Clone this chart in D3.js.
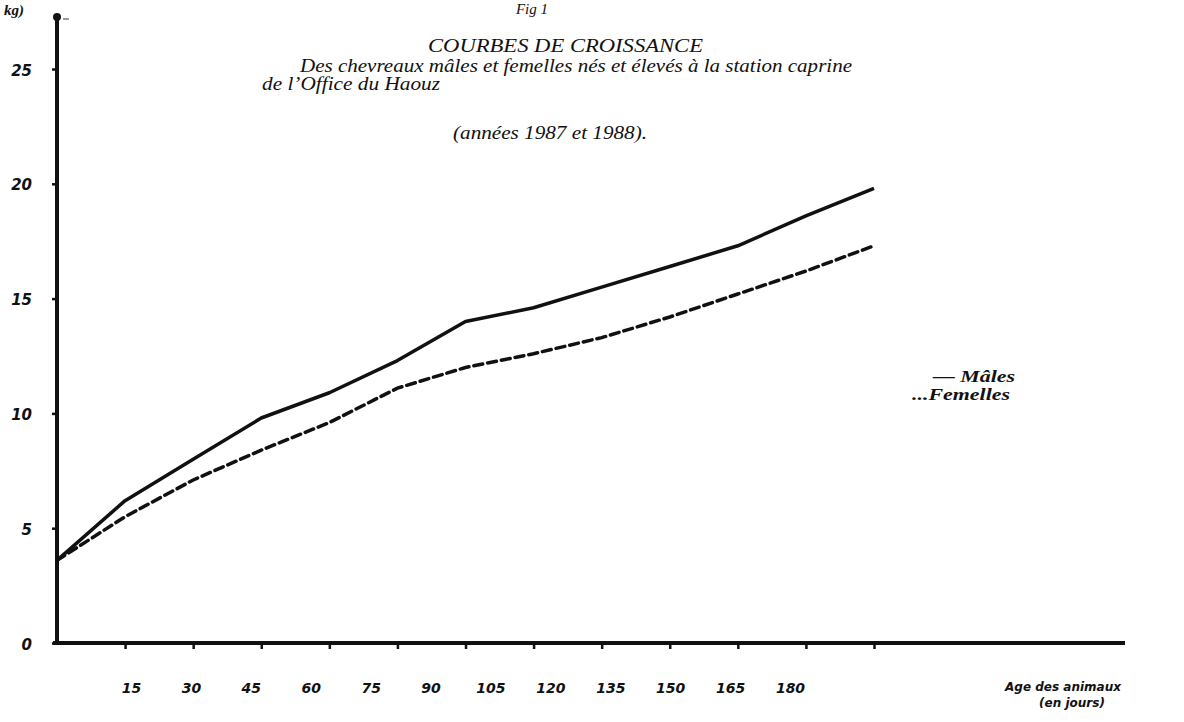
<!DOCTYPE html>
<html>
<head>
<meta charset="utf-8">
<script src="https://cdn.jsdelivr.net/npm/d3@7"></script>
<style>
  body { margin: 0; background: #fff; }
  svg { display: block; }
  .serif { font-family: "Liberation Serif", "DejaVu Serif", serif; font-style: italic; fill: #111; }
  .hand { font-family: "DejaVu Sans", sans-serif; font-style: italic; font-weight: bold; fill: #111; }
</style>
</head>
<body>
<script>
// ages (days) and weights (kg)
const ages = [0, 15, 30, 45, 60, 75, 90, 105, 120, 135, 150, 165, 180];
const males = [3.6, 6.2, 8.0, 9.8, 10.9, 12.3, 14.0, 14.6, 15.5, 16.4, 17.3, 18.6, 19.8];
const females = [3.6, 5.5, 7.1, 8.4, 9.6, 11.1, 12.0, 12.6, 13.3, 14.2, 15.2, 16.2, 17.3];
const yTicks = [0, 5, 10, 15, 20, 25];
const xTickLabels = [15, 30, 45, 60, 75, 90, 105, 120, 135, 150, 165, 180];

const titleLines = [
  "COURBES DE CROISSANCE",
  "Des chevreaux mâles et femelles nés et élevés à la station caprine",
  "de l\u2019Office du Haouz",
  "(années 1987 et 1988)."
];

const W = 1184, H = 722;

const svg = d3.select("body")
  .append("svg")
  .attr("width", W)
  .attr("height", H);

const x = d3.scaleLinear().domain([0, 180]).range([57, 874]);
const y = d3.scaleLinear().domain([0, 25]).range([643, 69]);
// the printed day labels sit on their own (tighter) spacing in the original
const xLabel = d3.scaleLinear().domain([15, 180]).range([131, 790]);

// axes drawn by hand: heavy ink strokes
svg.append("line")
  .attr("x1", x(0)).attr("x2", x(0))
  .attr("y1", y(0)).attr("y2", 16)
  .attr("stroke", "#111").attr("stroke-width", 4);
svg.append("circle").attr("cx", x(0)).attr("cy", 17).attr("r", 4).attr("fill", "#111");
svg.append("line")
  .attr("x1", x(0) + 6).attr("x2", x(0) + 12)
  .attr("y1", 19).attr("y2", 19)
  .attr("stroke", "#333").attr("stroke-width", 1);

svg.append("line")
  .attr("x1", x(0) - 4).attr("x2", 1125)
  .attr("y1", y(0)).attr("y2", y(0))
  .attr("stroke", "#111").attr("stroke-width", 4);

// y ticks + labels
const yAxis = svg.append("g")
  .attr("transform", `translate(${x(0)},0)`)
  .call(d3.axisLeft(y).tickValues(yTicks).tickSize(5).tickPadding(20))
  .call(g => g.select(".domain").remove());
yAxis.selectAll(".tick line").attr("stroke", "#111").attr("stroke-width", 2.5);
yAxis.selectAll(".tick text")
  .attr("class", "hand")
  .attr("font-size", 15)
  .attr("dy", "0.4em");

// x tick marks on the data scale
const xAxis = svg.append("g")
  .attr("transform", `translate(0,${y(0)})`)
  .call(d3.axisBottom(x).tickValues(xTickLabels).tickSize(6).tickFormat(""))
  .call(g => g.select(".domain").remove());
xAxis.selectAll(".tick line").attr("stroke", "#111").attr("stroke-width", 2.5);

// x tick labels
const xLab = svg.append("g")
  .attr("transform", `translate(0,${y(0)})`)
  .call(d3.axisBottom(xLabel).tickValues(xTickLabels).tickSize(0).tickPadding(40))
  .call(g => g.select(".domain").remove());
xLab.selectAll(".tick text")
  .attr("class", "hand")
  .attr("font-size", 14);

// axis titles
svg.append("text").attr("class", "serif")
  .attr("x", 4).attr("y", 15)
  .attr("font-size", 15).attr("font-weight", "bold")
  .text("kg)");

svg.append("text").attr("class", "hand")
  .attr("x", 1063).attr("y", 691)
  .attr("text-anchor", "middle")
  .attr("font-size", 12)
  .text("Age des animaux");
svg.append("text").attr("class", "hand")
  .attr("x", 1072).attr("y", 707)
  .attr("text-anchor", "middle")
  .attr("font-size", 12)
  .text("(en jours)");

// title block
svg.append("text").attr("class", "serif")
  .attr("x", 532).attr("y", 14)
  .attr("text-anchor", "middle")
  .attr("font-size", 15)
  .text("Fig 1");
svg.append("text").attr("class", "serif")
  .attr("x", 428).attr("y", 52)
  .attr("font-size", 19)
  .attr("textLength", 275).attr("lengthAdjust", "spacingAndGlyphs")
  .text(titleLines[0]);
svg.append("text").attr("class", "serif")
  .attr("x", 300).attr("y", 72)
  .attr("font-size", 18)
  .attr("textLength", 552).attr("lengthAdjust", "spacingAndGlyphs")
  .text(titleLines[1]);
svg.append("text").attr("class", "serif")
  .attr("x", 262).attr("y", 90)
  .attr("font-size", 18)
  .attr("textLength", 178).attr("lengthAdjust", "spacingAndGlyphs")
  .text(titleLines[2]);
svg.append("text").attr("class", "serif")
  .attr("x", 453).attr("y", 139)
  .attr("font-size", 18)
  .attr("textLength", 194).attr("lengthAdjust", "spacingAndGlyphs")
  .text(titleLines[3]);

// curves
const line = d3.line()
  .x((d, i) => x(ages[i]))
  .y(d => y(d));

svg.append("path")
  .datum(females)
  .attr("fill", "none")
  .attr("stroke", "#111")
  .attr("stroke-width", 3.5)
  .attr("stroke-dasharray", "9,5")
  .attr("stroke-linecap", "round")
  .attr("d", line);

svg.append("path")
  .datum(males)
  .attr("fill", "none")
  .attr("stroke", "#111")
  .attr("stroke-width", 3.5)
  .attr("stroke-linejoin", "round")
  .attr("d", line);

// legend
const legend = svg.append("g");
legend.append("text").attr("class", "serif")
  .attr("x", 933).attr("y", 382)
  .attr("font-size", 17).attr("font-weight", "bold")
  .attr("textLength", 82).attr("lengthAdjust", "spacingAndGlyphs")
  .text("\u2014 Mâles");
legend.append("text").attr("class", "serif")
  .attr("x", 912).attr("y", 400)
  .attr("font-size", 17).attr("font-weight", "bold")
  .attr("textLength", 98).attr("lengthAdjust", "spacingAndGlyphs")
  .text("...Femelles");
</script>
</body>
</html>
